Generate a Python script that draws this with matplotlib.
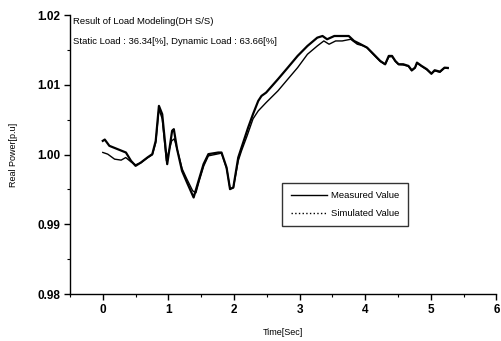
import matplotlib
matplotlib.use("Agg")
import matplotlib.pyplot as plt
from matplotlib.lines import Line2D
from matplotlib.ticker import MultipleLocator

plt.rcParams['font.family'] = ['Liberation Sans', 'DejaVu Sans']

# Measured value (time [s], real power [p.u])
meas_t = [0.0, 0.03, 0.10, 0.227, 0.353, 0.43, 0.50, 0.58, 0.68, 0.755, 0.807, 0.856, 0.906,
          0.982, 1.057, 1.083, 1.133, 1.208, 1.284, 1.385, 1.46, 1.536, 1.61, 1.76, 1.81,
          1.887, 1.94, 1.99, 2.065, 2.115, 2.216, 2.29, 2.37, 2.42, 2.49, 2.67, 2.82, 2.97,
          3.12, 3.27, 3.35, 3.42, 3.53, 3.60, 3.68, 3.75, 3.83, 3.93, 4.03, 4.13, 4.23,
          4.305, 4.36, 4.41, 4.46, 4.51, 4.58, 4.66, 4.71, 4.76, 4.79, 4.86, 4.94, 5.01,
          5.06, 5.14, 5.21, 5.26]
meas_v = [1.00196, 1.00215, 1.00125, 1.00077, 1.00029, 0.99910, 0.99838, 0.99885, 0.99957, 1.00006,
          1.00196, 1.00698, 1.00579, 0.99862, 1.00341, 1.00364, 1.00077, 0.99766, 0.99599,
          0.99384, 0.99623, 0.99862, 1.00006, 1.00029, 1.00029, 0.99814, 0.99504, 0.99527,
          0.99957, 1.00100, 1.00387, 1.00579, 1.00769, 1.00841, 1.00888, 1.01080, 1.01246,
          1.01414, 1.01557, 1.01676, 1.01700, 1.01653, 1.01700, 1.01700, 1.01700, 1.01700,
          1.01629, 1.01582, 1.01533, 1.01438, 1.01342, 1.01295, 1.01414, 1.01414, 1.01342,
          1.01295, 1.01295, 1.01271, 1.01209, 1.01246, 1.01318, 1.01271, 1.01224, 1.01160,
          1.01209, 1.01189, 1.01246, 1.01242]

# Simulated value
sim_t = [0.0, 0.075, 0.18, 0.28, 0.35, 0.43, 0.50, 0.58, 0.68, 0.755, 0.807, 0.856, 0.906,
         0.97, 1.05, 1.09, 1.14, 1.21, 1.28, 1.37, 1.42, 1.47, 1.54, 1.61, 1.76, 1.81,
         1.89, 1.94, 1.99, 2.065, 2.115, 2.2, 2.29, 2.37, 2.49, 2.67, 2.82, 2.97, 3.12,
         3.27, 3.37, 3.45, 3.55, 3.65, 3.78, 3.88, 3.98, 4.03, 4.13, 4.23, 4.305, 4.36,
         4.41, 4.46, 4.51, 4.58, 4.66, 4.71, 4.76, 4.79, 4.86, 4.94, 5.01, 5.06, 5.14,
         5.21, 5.26]
sim_v = [1.0003, 1.00006, 0.99934, 0.99920, 0.99957, 0.99895, 0.99852, 0.99881, 0.99953,
         0.99996, 1.00168, 1.00655, 1.00511, 0.99910, 1.00196, 1.00225, 1.00053, 0.99795,
         0.99652, 0.99480, 0.99451, 0.99623, 0.99838, 0.99981, 1.0001, 1.0002, 0.99795,
         0.99509, 0.99523, 0.99910, 1.00053, 1.00268, 1.00511, 1.00626, 1.00745, 1.00913,
         1.01080, 1.01246, 1.01438, 1.01557, 1.01629, 1.01582, 1.01629, 1.01629, 1.01653,
         1.01582, 1.01557, 1.0153, 1.01430, 1.01335, 1.01290, 1.01400, 1.01405, 1.01335,
         1.01290, 1.01285, 1.01265, 1.01200, 1.01240, 1.01310, 1.01265, 1.01215, 1.01155,
         1.01200, 1.01180, 1.01240, 1.01235]

title_line1 = "Result of Load Modeling(DH S/S)"
title_line2 = "Static Load : 36.34[%], Dynamic Load : 63.66[%]"
x_ticks = [0, 1, 2, 3, 4, 5, 6]
y_ticks = [0.98, 0.99, 1.00, 1.01, 1.02]
y_ticklabels = ["0.98", "0.99", "1.00", "1.01", "1.02"]

fig = plt.figure(figsize=(5.01, 3.41), dpi=100)
ax = fig.add_axes([0.1397, 0.1378, 0.851, 0.818])

ax.plot(meas_t, meas_v, color='black', lw=1.6)
ax.plot(sim_t, sim_v, color='black', lw=1.0)

ax.set_xlim(-0.5, 6.0)
ax.set_ylim(0.98, 1.02)
ax.set_xticks(x_ticks)
ax.set_yticks(y_ticks)
ax.set_yticklabels(y_ticklabels)
ax.xaxis.set_minor_locator(MultipleLocator(0.5))
ax.yaxis.set_minor_locator(MultipleLocator(0.005))
ax.tick_params(which='major', direction='out', length=4, width=1, labelsize=8.5, pad=3)
ax.tick_params(which='minor', direction='out', length=2, width=0.8)
for lab in ax.get_xticklabels() + ax.get_yticklabels():
    lab.set_fontweight('bold')
ax.spines['top'].set_visible(False)
ax.spines['right'].set_visible(False)
for s in ('left', 'bottom'):
    ax.spines[s].set_linewidth(1.0)

ax.set_xlabel("Time[Sec]", fontsize=6.5, labelpad=9)
ax.set_ylabel("Real Power[p.u]", fontsize=6.5, labelpad=14)

ax.text(0.006, 0.992, title_line1, transform=ax.transAxes, fontsize=6.8, va='top', ha='left')
ax.text(0.006, 0.922, title_line2, transform=ax.transAxes, fontsize=6.8, va='top', ha='left')

handles = [Line2D([0], [0], color='black', lw=1.0, ls='-'),
           Line2D([0], [0], color='black', lw=1.0, ls=':')]
leg = ax.legend(handles, ["Measured Value", "Simulated Value"], loc='upper left',
                bbox_to_anchor=(0.498, 0.398), fontsize=6.8, frameon=True, fancybox=False,
                edgecolor='black', handlelength=3.8, borderpad=0.9, labelspacing=0.9,
                handletextpad=0.5, borderaxespad=0.0)
leg.get_frame().set_linewidth(1.0)

fig.savefig("out.png", dpi=100)
